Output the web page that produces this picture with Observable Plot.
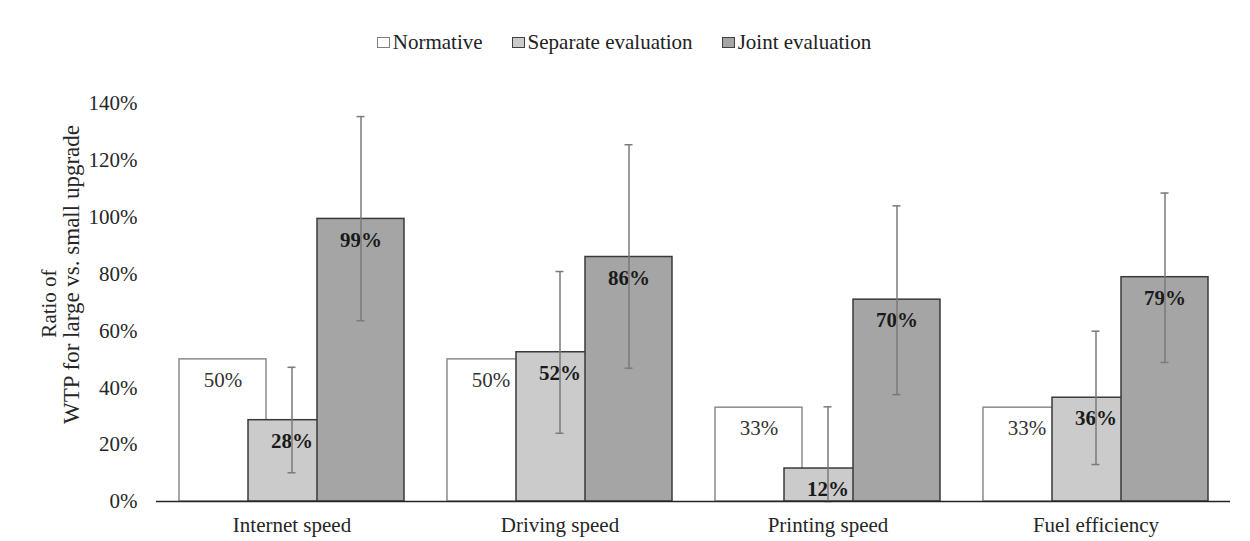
<!DOCTYPE html>
<html>
<head>
<meta charset="utf-8">
<script src="https://cdn.jsdelivr.net/npm/d3@7"></script>
<script src="https://cdn.jsdelivr.net/npm/@observablehq/plot@0.6"></script>
<style>
  html, body { margin: 0; padding: 0; background: #fff; }
  body { width: 1250px; height: 541px; overflow: hidden; font-family: "Liberation Serif", "Times New Roman", serif; }
  #legend { height: 80px; box-sizing: border-box; padding-top: 4px; padding-right: 2px; display: flex; align-items: center; justify-content: center; font-size: 21px; color: #222; }
  .item { display: flex; align-items: center; margin: 0 14.5px; }
  .sw { width: 11px; height: 9px; margin-right: 3px; border: 1px solid #444; }
  #chart svg { display: block; }
</style>
</head>
<body>
<div id="legend"></div>
<div id="chart"></div>
<script>
const categories = ["Internet speed", "Driving speed", "Printing speed", "Fuel efficiency"];
const seriesNames = ["Normative", "Separate evaluation", "Joint evaluation"];
const normative = [50, 50, 33, 33];
const separate = [28.6, 52.5, 11.6, 36.5];
const joint = [99.4, 86, 71, 78.9];
const separateLow = [10.1, 24.0, 0, 13.0];
const separateHigh = [47.2, 80.9, 33.3, 59.9];
const jointLow = [63.6, 46.9, 37.6, 48.9];
const jointHigh = [135.4, 125.5, 104, 108.5];
const normativeLabels = ["50%", "50%", "33%", "33%"];
const separateLabels = ["28%", "52%", "12%", "36%"];
const jointLabels = ["99%", "86%", "70%", "79%"];
const yTicks = [0, 20, 40, 60, 80, 100, 120, 140];
const yTitle = ["Ratio of", "WTP for large vs. small upgrade"];

const fills = ["#ffffff", "#cbcbcb", "#a5a5a5"];
const strokes = ["#8c8c8c", "#3a3a3a", "#3a3a3a"];

// legend
const legend = document.getElementById("legend");
seriesNames.forEach((name, i) => {
  const item = document.createElement("div");
  item.className = "item";
  const sw = document.createElement("span");
  sw.className = "sw";
  sw.style.background = fills[i];
  sw.style.borderColor = i === 0 ? "#7f7f7f" : "#404040";
  item.appendChild(sw);
  const t = document.createElement("span");
  t.textContent = name;
  item.appendChild(t);
  legend.appendChild(item);
});

const rows = (vals, labels, low, high) => categories.map((c, i) => ({
  category: c, value: vals[i], label: labels[i],
  low: low ? low[i] : null, high: high ? high[i] : null
}));
const normData = rows(normative, normativeLabels);
const sepData = rows(separate, separateLabels, separateLow, separateHigh);
const jointData = rows(joint, jointLabels, jointLow, jointHigh);

const barW = 87;      // width of one bar
const offset = 69;    // distance between overlapping bars
const groupW = barW + 2 * offset; // 225
const capW = 8;
const capInset = (groupW - capW) / 2;
const errColor = "#7a7a7a";
const font = "'Liberation Serif', 'Times New Roman', serif";

const chart = Plot.plot({
  width: 1250,
  height: 461,
  marginLeft: 156,
  marginRight: 20,
  marginTop: 23,
  marginBottom: 40,
  style: { fontFamily: font, fontSize: "21px", color: "#262626", background: "#fff" },
  x: { domain: categories, paddingInner: 0.162, paddingOuter: 0.081, label: null },
  y: { domain: [0, 140], label: null },
  marks: [
    Plot.axisY({ ticks: yTicks, tickFormat: d => d + "%", tickSize: 0, tickPadding: 19, fontSize: 21, label: null }),
    Plot.axisX({ tickSize: 0, tickPadding: 16, fontSize: 21, label: null }),
    Plot.barY(normData, { x: "category", y1: 0, y2: "value", insetLeft: 0, insetRight: groupW - barW, fill: fills[0], stroke: strokes[0], strokeWidth: 1.5 }),
    Plot.barY(sepData, { x: "category", y1: 0, y2: "value", insetLeft: offset, insetRight: offset, fill: fills[1], stroke: strokes[1], strokeWidth: 1.5 }),
    Plot.barY(jointData, { x: "category", y1: 0, y2: "value", insetLeft: groupW - barW, insetRight: 0, fill: fills[2], stroke: strokes[2], strokeWidth: 1.5 }),
    // labels
    Plot.text(normData, { x: "category", y: "value", text: "label", dx: -offset, dy: 21, fontSize: 21, fill: "#333" }),
    Plot.text(sepData, { x: "category", y: "value", text: "label", dy: 21, fontSize: 21, fontWeight: "bold", fill: "#1a1a1a" }),
    Plot.text(jointData, { x: "category", y: "value", text: "label", dx: offset, dy: 21, fontSize: 21, fontWeight: "bold", fill: "#1a1a1a" }),
    // error bars
    Plot.ruleX(sepData, { x: "category", y1: "low", y2: "high", stroke: errColor, strokeWidth: 1.5 }),
    Plot.tickY(sepData, { x: "category", y: "high", insetLeft: capInset, insetRight: capInset, stroke: errColor, strokeWidth: 1.5 }),
    Plot.tickY(sepData, { x: "category", y: "low", insetLeft: capInset, insetRight: capInset, stroke: errColor, strokeWidth: 1.5 }),
    Plot.ruleX(jointData, { x: "category", y1: "low", y2: "high", dx: offset, stroke: errColor, strokeWidth: 1.5 }),
    Plot.tickY(jointData, { x: "category", y: "high", dx: offset, insetLeft: capInset, insetRight: capInset, stroke: errColor, strokeWidth: 1.5 }),
    Plot.tickY(jointData, { x: "category", y: "low", dx: offset, insetLeft: capInset, insetRight: capInset, stroke: errColor, strokeWidth: 1.5 }),
    // baseline
    Plot.ruleY([0], { stroke: "#262626", strokeWidth: 1.5 }),
    // y title
    Plot.text([yTitle[0]], { frameAnchor: "left", text: d => d, textAnchor: "middle", rotate: -90, dx: -107, dy: 1, fontSize: 21, fill: "#262626" }),
    Plot.text([yTitle[1]], { frameAnchor: "left", text: d => d, textAnchor: "middle", rotate: -90, dx: -85, dy: -28, fontSize: 23, fill: "#262626" })
  ]
});
document.getElementById("chart").appendChild(chart);
</script>
</body>
</html>
